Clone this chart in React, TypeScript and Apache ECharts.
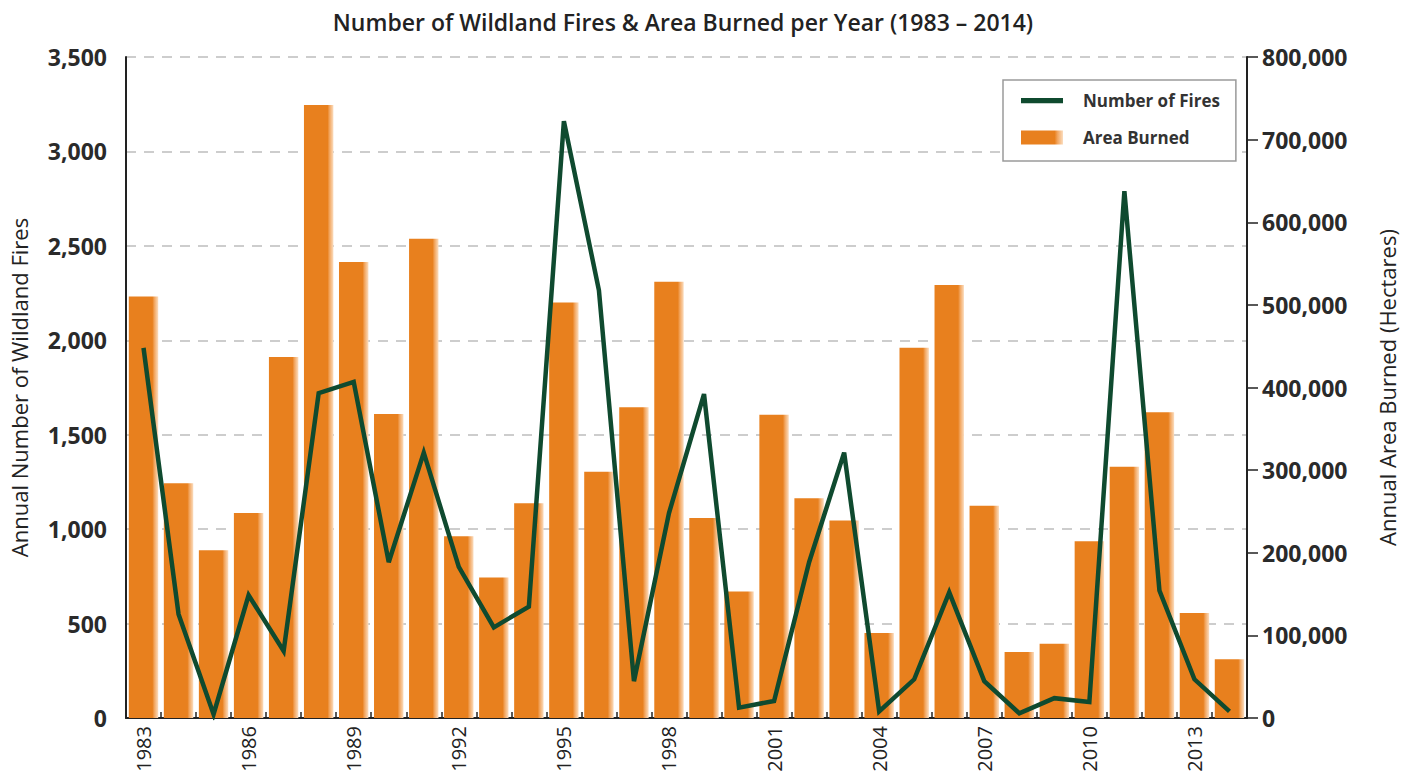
import React, { useEffect, useRef } from "react";
import * as echarts from "echarts";

const years = [
  "1983", "1984", "1985", "1986", "1987", "1988", "1989", "1990", "1991", "1992",
  "1993", "1994", "1995", "1996", "1997", "1998", "1999", "2000", "2001", "2002",
  "2003", "2004", "2005", "2006", "2007", "2008", "2009", "2010", "2011", "2012",
  "2013", "2014",
];

const numberOfFires = [
  1960, 550, 20, 650, 355, 1720, 1780, 825, 1405, 800,
  480, 590, 3160, 2265, 195, 1085, 1715, 55, 90, 825,
  1405, 35, 205, 665, 195, 25, 105, 85, 2790, 675,
  205, 35,
];

const areaBurned = [
  510000, 284000, 203000, 248000, 437000, 742000, 552000, 368000, 580000, 220000,
  170000, 260000, 503000, 298000, 376000, 528000, 242000, 153000, 367000, 266000,
  239000, 103000, 448000, 524000, 257000, 80000, 90000, 214000, 304000, 370000,
  127000, 71000,
];

const titleText = "Number of Wildland Fires & Area Burned per Year (1983 \u2013 2014)";
const leftAxisName = "Annual Number of Wildland Fires";
const rightAxisName = "Annual Area Burned (Hectares)";
const fireSeriesName = "Number of Fires";
const areaSeriesName = "Area Burned";

const FONT = "'Open Sans', 'Noto Sans', sans-serif";
const ORANGE = "#E8801E";
const GREEN = "#0F4A2F";

export default function App() {
  const ref = useRef<HTMLDivElement>(null);

  useEffect(() => {
    if (!ref.current) return;
    const chart = echarts.init(ref.current, undefined, { renderer: "svg" });
    const fmt = (v: number) => v.toLocaleString("en-US");
    chart.setOption({
      animation: false,
      backgroundColor: "#ffffff",
      textStyle: { fontFamily: FONT },
      title: {
        text: titleText,
        left: 678,
        textAlign: "center",
        top: 5,
        textStyle: { fontFamily: FONT, fontSize: 23, fontWeight: 600, color: "#222" },
      },
      legend: {
        orient: "vertical",
        left: 1003,
        top: 80,
        padding: [12, 16, 15, 18],
        itemGap: 20,
        itemWidth: 42,
        itemHeight: 14,
        borderColor: "#9a9a9a",
        borderWidth: 1.5,
        backgroundColor: "#ffffff",
        textStyle: {
          fontFamily: FONT,
          fontSize: 17,
          fontWeight: "bold",
          color: "#333",
          padding: [0, 0, 0, 15],
        },
        data: [
          { name: fireSeriesName, icon: "path://M0,0 h40 v5 h-40 z" },
          { name: areaSeriesName, icon: "rect" },
        ],
      },
      grid: { left: 120, right: 153, top: 57, bottom: 62, containLabel: false },
      xAxis: {
        type: "category",
        data: years,
        boundaryGap: true,
        axisLine: { lineStyle: { color: "#222", width: 2 } },
        axisTick: { show: true, inside: true, length: 6, interval: 0, lineStyle: { color: "#222", width: 1.5 } },
        axisLabel: {
          interval: 2,
          rotate: 90,
          margin: 8,
          fontSize: 20,
          color: "#222",
          fontFamily: FONT,
        },
      },
      yAxis: [
        {
          type: "value",
          min: 0,
          max: 3500,
          interval: 500,
          position: "left",
          name: leftAxisName,
          nameLocation: "middle",
          nameGap: 96,
          nameRotate: 90,
          nameTextStyle: { fontFamily: FONT, fontSize: 22, color: "#222" },
          axisLine: { show: true, lineStyle: { color: "#222", width: 2 } },
          axisTick: { show: false },
          axisLabel: {
            formatter: fmt,
            fontSize: 23,
            fontWeight: "bold",
            color: "#2a2a2a",
            margin: 19,
            fontFamily: FONT,
          },
          splitLine: {
            show: true,
            lineStyle: { color: "#bdbdbd", width: 1.5, type: [10, 8] },
          },
        },
        {
          type: "value",
          min: 0,
          max: 800000,
          interval: 100000,
          position: "right",
          name: rightAxisName,
          nameLocation: "middle",
          nameGap: 129,
          nameRotate: 90,
          nameTextStyle: { fontFamily: FONT, fontSize: 22, color: "#222" },
          axisLine: { show: true, lineStyle: { color: "#222", width: 2 } },
          axisTick: { show: true, length: 11, lineStyle: { color: "#222", width: 1.5 } },
          axisLabel: {
            formatter: fmt,
            fontSize: 23,
            fontWeight: "bold",
            color: "#2a2a2a",
            margin: 15,
            fontFamily: FONT,
          },
          splitLine: { show: false },
        },
      ],
      series: [
        {
          name: areaSeriesName,
          type: "bar",
          yAxisIndex: 1,
          barWidth: "84%",
          data: areaBurned,
          itemStyle: {
            color: new echarts.graphic.LinearGradient(0, 0, 1, 0, [
              { offset: 0, color: ORANGE },
              { offset: 0.8, color: ORANGE },
              { offset: 0.87, color: "#F2A660" },
              { offset: 1, color: "#FBDDBF" },
            ]),
          },
          z: 2,
        },
        {
          name: fireSeriesName,
          type: "line",
          yAxisIndex: 0,
          data: numberOfFires,
          showSymbol: false,
          symbol: "none",
          color: GREEN,
          itemStyle: { color: GREEN },
          lineStyle: { color: GREEN, width: 4.5, join: "miter" },
          z: 5,
        },
      ],
    });
    return () => chart.dispose();
  }, []);

  return (
    <div
      ref={ref}
      style={{ position: "fixed", left: 0, top: 0, width: 1406, height: 780, background: "#fff" }}
    />
  );
}
